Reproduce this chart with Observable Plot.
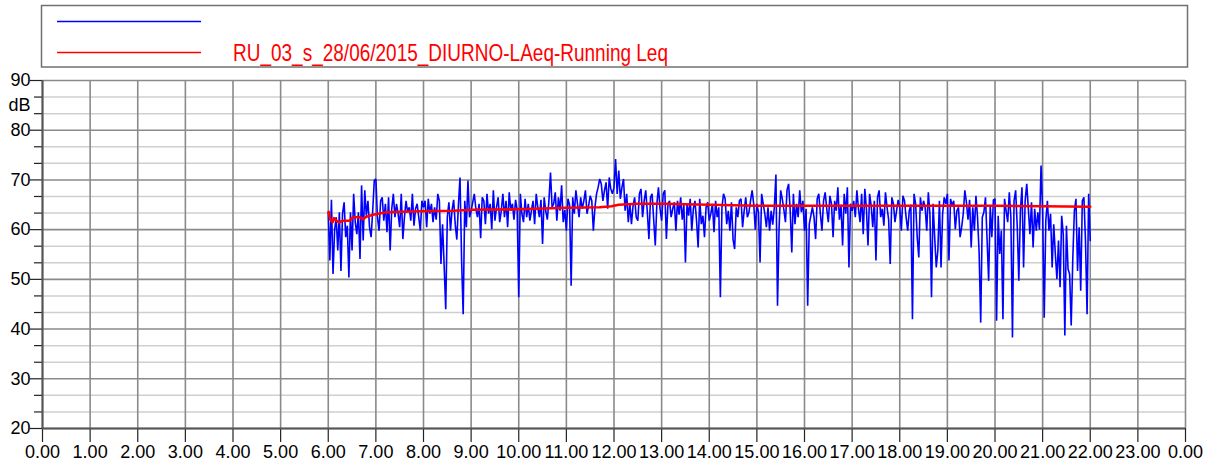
<!DOCTYPE html>
<html>
<head>
<meta charset="utf-8">
<script src="https://cdn.jsdelivr.net/npm/d3@7"></script>
<script src="https://cdn.jsdelivr.net/npm/@observablehq/plot@0.6"></script>
<style>
  html, body { margin: 0; padding: 0; background: #fff; }
  #wrap { position: relative; width: 1212px; height: 467px; font-family: "Liberation Sans", Arial, sans-serif; }
  #legend { position: absolute; left: 0; top: 0; display: block; }
  #chart { position: absolute; left: 0; top: 70px; }
  #chart svg { display: block; }
</style>
</head>
<body>
<div id="wrap">
  <svg id="legend" width="1212" height="70"></svg>
  <div id="chart"></div>
</div>
<script>
// ---- Data ----
const seriesName = "RU_03_s_28/06/2015_DIURNO-LAeq-Running Leq";
const startHour = 6;
const samplesPerHour = 30; // one value every 2 minutes

// LAeq short values, dB, per hour (2-minute samples)
const h06 = [63.5,53.8,66.0,51.1,59.8,62.5,55.8,63.5,51.7,63.2,65.5,58.5,60.8,50.4,63.5,55.8,67.2,61.5,59.1,63.5,54.1,68.9,57.8,67.9,62.8,65.8,60.5,58.5,63.8,69.9];
const h07 = [70.2,62.5,59.8,65.8,66.5,61.8,65.2,59.5,66.5,55.8,64.2,67.2,62.5,65.2,63.2,60.5,67.2,58.1,62.5,65.8,63.5,64.5,61.8,67.2,60.8,64.2,65.2,62.5,59.8,65.8];
const h08 = [64.5,65.8,60.5,66.2,63.2,65.2,61.5,64.5,62.0,67.2,65.8,53.1,61.1,52.8,44.0,62.5,65.5,59.8,64.0,66.0,61.0,58.0,65.0,70.5,53.8,43.0,65.8,60.5,69.9,62.5];
const h09 = [63.8,65.5,67.2,64.2,62.5,65.2,58.3,66.5,65.8,61.1,67.2,63.2,65.2,60.1,67.9,61.8,64.5,66.5,61.5,63.8,67.2,62.5,65.8,60.5,67.5,63.8,65.2,62.0,66.0,64.0];
const h10 = [46.4,67.2,63.2,61.5,66.2,62.5,65.2,61.8,63.8,65.8,61.1,67.2,64.5,62.5,66.0,57.1,66.5,63.8,62.0,65.8,71.5,64.5,65.2,67.5,61.8,66.5,63.8,68.9,61.5,64.0];
const h11 = [59.8,66.2,65.0,48.7,66.5,63.2,67.9,65.2,62.5,66.5,64.2,65.8,67.9,63.2,64.8,66.8,65.8,59.8,64.5,67.2,68.5,70.2,69.2,65.8,67.9,69.5,64.2,70.5,68.2,67.2];
const h12 = [68.5,74.2,67.2,71.9,66.2,68.5,70.2,63.8,67.2,61.5,65.2,61.1,64.8,66.5,62.5,61.8,67.2,68.2,62.5,65.8,67.9,63.5,58.1,66.5,67.2,62.0,56.8,65.2,68.5,64.2];
const h13 = [61.8,67.2,67.9,58.1,65.2,65.8,62.5,64.2,65.5,59.8,65.8,63.0,66.5,62.0,65.0,53.4,65.2,62.8,66.2,59.8,64.2,65.8,61.8,56.4,66.2,61.1,62.8,58.5,64.5,65.5];
const h14 = [61.8,63.2,65.2,59.5,65.8,62.5,64.5,46.4,64.5,67.2,66.2,61.1,63.8,59.8,65.5,58.0,56.1,64.5,62.5,65.8,66.2,60.5,63.8,66.5,62.5,63.5,65.8,67.9,65.2,60.0];
const h15 = [65.2,63.5,53.4,67.2,65.2,63.2,60.5,64.5,59.8,63.8,61.0,64.5,71.1,44.7,60.5,67.9,66.2,64.0,61.5,68.0,69.2,63.8,55.4,67.2,61.1,65.2,62.5,67.9,63.5,65.8];
const h16 = [59.8,64.2,44.7,61.1,62.8,64.5,62.5,58.1,66.2,67.2,63.2,59.8,65.8,67.5,64.2,61.5,66.8,65.2,58.5,65.8,63.8,68.5,62.0,65.0,56.8,67.2,63.2,68.5,52.4,65.2];
const h17 = [63.8,65.8,62.5,67.9,64.2,61.5,67.2,59.1,68.2,64.2,56.8,67.2,64.8,60.5,65.8,53.8,66.5,67.9,62.5,64.2,60.8,67.5,64.5,62.0,53.1,66.5,65.2,61.5,63.8,66.0];
const h18 = [64.5,59.8,66.8,65.8,62.5,59.8,63.8,65.0,42.0,67.2,65.2,58.5,54.4,66.5,63.8,65.8,64.5,59.8,67.5,63.2,46.4,65.2,58.5,52.4,55.8,65.8,52.4,63.2,66.5,65.2];
const h19 = [67.2,53.8,66.2,64.8,65.8,60.1,63.8,64.5,58.5,60.5,63.2,67.9,65.5,62.0,66.0,56.4,64.5,59.8,66.8,62.5,55.4,41.3,62.5,63.5,66.5,58.1,49.7,64.8,58.5,66.0];
const h20 = [66.2,41.7,62.8,55.1,59.8,42.0,66.2,63.8,61.5,67.5,62.5,38.3,65.8,67.9,60.8,49.7,63.8,68.5,52.4,65.8,69.2,64.2,59.1,65.5,56.4,64.2,59.8,63.5,60.0,72.9];
const h21 = [63.8,42.3,61.8,65.8,59.8,63.2,52.4,61.1,55.1,50.1,57.8,48.4,62.8,59.1,38.7,60.8,52.1,51.1,40.7,54.1,63.8,66.2,51.7,60.5,47.7,65.8,66.5,57.8,43.0,67.2];
const h22 = [57.8]; // final sample at 22.00

// Running Leq (red), time in hours and dB
const leqTime  = [6.01,6.04,6.09,6.12,6.17,6.22,6.31,6.45,6.52,6.66,6.73,6.80,6.94,7.22,7.92,8.62,9.04,10.0,11.0,11.7,11.95,12.1,12.5,13.0,14.0,15.0,16.0,17.0,18.0,19.0,20.0,21.0,22.0];
const leqValue = [63.6,62.1,61.5,62.3,61.8,61.5,61.8,61.8,62.5,62.5,62.1,62.6,63.0,63.5,63.7,63.8,64.0,64.1,64.4,64.5,64.7,65.0,65.2,65.2,65.0,64.8,64.8,64.8,64.8,64.8,64.8,64.7,64.6];

// Axis ticks and labels
const xTicks = [0,1,2,3,4,5,6,7,8,9,10,11,12,13,14,15,16,17,18,19,20,21,22,23,24];
const xTickLabels = ["0.00","1.00","2.00","3.00","4.00","5.00","6.00","7.00","8.00","9.00","10.00","11.00","12.00","13.00","14.00","15.00","16.00","17.00","18.00","19.00","20.00","21.00","22.00","23.00","0.00"];
const yMajor = [20,30,40,50,60,70,80,90];
const yMinor = [23.33,26.67,33.33,36.67,43.33,46.67,53.33,56.67,63.33,66.67,73.33,76.67,83.33,86.67];
const yUnit = "dB";

// ---- Build tables ----
const hourly = [h06,h07,h08,h09,h10,h11,h12,h13,h14,h15,h16,h17,h18,h19,h20,h21,h22];
const laeq = hourly.flat().map((v, i) => ({t: startHour + i / samplesPerHour, v}));
const leq = leqTime.map((t, i) => ({t, v: leqValue[i]}));

// ---- Legend ----
const lg = d3.select("#legend");
lg.append("rect").attr("x", 41.5).attr("y", 5.5).attr("width", 1146).attr("height", 61.5)
  .attr("fill", "none").attr("stroke", "#707070").attr("stroke-width", 1.5);
lg.append("line").attr("x1", 57).attr("x2", 201).attr("y1", 21.5).attr("y2", 21.5)
  .attr("stroke", "#0000ff").attr("stroke-width", 1.5);
lg.append("line").attr("x1", 57).attr("x2", 201).attr("y1", 52.5).attr("y2", 52.5)
  .attr("stroke", "#ff0000").attr("stroke-width", 1.5);
lg.append("text").attr("x", 233).attr("y", 61)
  .attr("fill", "#ff0000").attr("font-family", "Liberation Sans, Arial, sans-serif")
  .attr("font-size", 24).attr("textLength", 435).attr("lengthAdjust", "spacingAndGlyphs")
  .text(seriesName);

// ---- Chart ----
const chart = Plot.plot({
  width: 1212,
  height: 397,
  marginTop: 10,
  marginBottom: 39,
  marginLeft: 42,
  marginRight: 27,
  style: {fontFamily: "Liberation Sans, Arial, sans-serif", fontSize: "18px", color: "#000", background: "#fff"},
  x: {domain: [0, 24]},
  y: {domain: [20, 90]},
  marks: [
    Plot.ruleY(yMinor, {stroke: "#cfcfcf", strokeWidth: 1.5}),
    Plot.ruleY(yMajor, {stroke: "#8a8a8a", strokeWidth: 1.6}),
    Plot.ruleX(xTicks, {stroke: "#8a8a8a", strokeWidth: 1.6}),
    Plot.axisX({ticks: xTicks, tickSize: 14, tickPadding: 3, stroke: "#222", strokeWidth: 1.2,
      tickFormat: d => xTickLabels[xTicks.indexOf(d)], label: null}),
    Plot.axisY({ticks: yMajor, tickSize: 12, tickPadding: 0, stroke: "#222", strokeWidth: 1.2, label: null}),
    Plot.axisY({ticks: yMinor, tickSize: 8, tickFormat: () => "", stroke: "#222", strokeWidth: 1.2, label: null}),
    Plot.text([yUnit], {x: 0, y: 85, text: d => d, textAnchor: "end", dx: -12, fontSize: 18, fill: "#000"}),
    Plot.ruleX([0], {stroke: "#555", strokeWidth: 2}),
    Plot.ruleY([20], {stroke: "#555", strokeWidth: 2}),
    Plot.line(laeq, {x: "t", y: "v", stroke: "#0000ff", strokeWidth: 1.6, strokeLinejoin: "miter"}),
    Plot.line(leq, {x: "t", y: "v", stroke: "#ff0000", strokeWidth: 2.6, curve: "linear"})
  ]
});
document.getElementById("chart").appendChild(chart);
</script>
</body>
</html>
